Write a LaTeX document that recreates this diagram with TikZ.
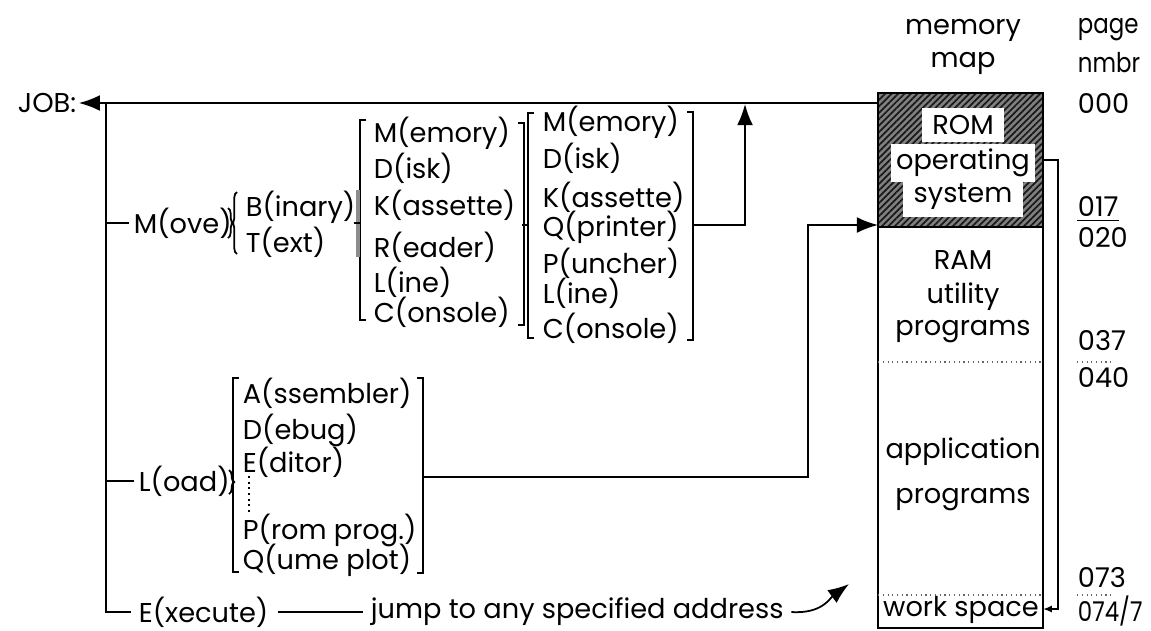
\documentclass[tikz,border=0pt]{standalone}
\usepackage{fontspec}
\setmainfont{Poppins}
\newfontfamily\serre[FakeStretch=0.84]{Poppins}
\usetikzlibrary{arrows.meta,patterns.meta,decorations.pathreplacing}
\begin{document}
\begin{tikzpicture}[x=0.02cm,y=-0.02cm,line width=1pt,
    txt/.style={anchor=west,inner sep=0pt,font=\fontsize{15.5}{18}\selectfont},
    ctxt/.style={txt,anchor=center},
    ptxt/.style={txt,font=\fontsize{15.5}{18}\selectfont\serre},
    fleche/.style={-{Latex[length=12pt,width=9pt]}},
    petitefleche/.style={-{Latex[length=5pt,width=4pt]}},
    pointille/.style={dotted,line width=0.7pt,black!60},
    accolade/.style={decorate,decoration={brace,amplitude=3pt}}]
    \useasboundingbox (0,0) rectangle (1151,630);
    %carte memoire
    \fill[black!50] (878,93) rectangle (1043,227);
    \fill[pattern={Lines[angle=45,distance=2.6pt,line width=1pt]},pattern color=black!90] (878,93) rectangle (1043,227);
    \draw (878,93) rectangle (1043,628);
    \draw (878,227) -- (1043,227);
    \draw[pointille] (878,362) -- (1043,362);
    \draw[pointille] (878,595) -- (1043,595);
    \node[ctxt] (titre1) at (963,30) {memory};
    \node[ctxt] (titre2) at (963,63) {map};
    \node[ctxt,fill=white,inner xsep=6pt,inner ysep=4pt] (rom) at (963,125) {ROM};
    \node[ctxt,fill=white,inner xsep=3pt,inner ysep=3pt] (os) at (963,163) {operating};
    \node[ctxt,fill=white,inner xsep=6pt,inner ysep=4pt] (sys) at (963,197) {system};
    \node[ctxt] (ram) at (963,260) {RAM};
    \node[ctxt] (util) at (963,297) {utility};
    \node[ctxt] (prog) at (963,332) {programs};
    \node[ctxt] (appl) at (963,452) {application};
    \node[ctxt] (aprog) at (963,500) {programs};
    \node[ctxt] (work) at (961,610) {work space};
    %numeros de page
    \node[ptxt] (page) at (1077,30) {page};
    \node[ptxt] (nmbr) at (1077,63) {nmbr};
    \node[txt] (p000) at (1077,103) {000};
    \node[txt] (p017) at (1077,206) {017};
    \node[txt] (p020) at (1077,237) {020};
    \node[txt] (p037) at (1077,341) {037};
    \node[txt] (p040) at (1077,377) {040};
    \node[txt] (p073) at (1077,578) {073};
    \node[ptxt] (p074) at (1077,611) {074/7};
    \draw ([yshift=-2pt]p017.south west) -- ([yshift=-2pt]p017.south east);
    \draw[pointille] (1077,362) -- (1112,362);
    \draw[pointille] (1077,595) -- (1112,595);
    %boucle travail
    \coordinate (loopa) at (1043,160);
    \coordinate (loopb) at (1058,609);
    \coordinate (loopc) at (1043,609);
    \draw[petitefleche] (loopa) -| (loopb) -- (loopc);
    %JOB
    \node[txt] (job) at (17,103) {JOB:};
    \coordinate (memtop) at (878,103);
    \draw[fleche] (memtop) -- ([xshift=1pt]job.east);
    \coordinate (spine) at (106,103);
    %branches
    \node[txt] (move) at (133,223) {M(ove)};
    \node[txt] (load) at (138,481) {L(oad)};
    \node[txt] (exec) at (138,612) {E(xecute)};
    \draw (spine) |- ([xshift=-4pt]exec.west);
    \draw (spine |- move.west) -- ([xshift=-2pt]move.west);
    \draw (spine |- load.west) -- ([xshift=-2pt]load.west);
    %M(ove)
    \draw[accolade] (228,208) -- (228,238);
    \draw[accolade] (237,254) -- (237,192);
    \node[txt] (bin) at (245,207) {B(inary)};
    \node[txt] (txt) at (245,242) {T(ext)};
    %liste source
    \draw (366,120) -- (360,120) -- (360,320) -- (366,320);
    \draw[line width=2.5pt,black!45] (358,190) -- (358,257);
    \draw (354,223) -- (360,223);
    \node[txt] (sm) at (373,133) {M(emory)};
    \node[txt] (sd) at (373,168) {D(isk)};
    \node[txt] (sk) at (373,205) {K(assette)};
    \node[txt] (sr) at (373,247) {R(eader)};
    \node[txt] (sl) at (373,282) {L(ine)};
    \node[txt] (sc) at (373,312) {C(onsole)};
    \draw (518,123) -- (524,123) -- (524,325) -- (518,325);
    \draw (522,225) -- (528,225);
    %liste destination
    \draw (534,113) -- (528,113) -- (528,338) -- (534,338);
    \node[txt] (dm) at (542,122) {M(emory)};
    \node[txt] (dd) at (542,158) {D(isk)};
    \node[txt] (dk) at (542,197) {K(assette)};
    \node[txt] (dq) at (542,227) {Q(printer)};
    \node[txt] (dp) at (542,263) {P(uncher)};
    \node[txt] (dl) at (542,293) {L(ine)};
    \node[txt] (dc) at (542,328) {C(onsole)};
    \draw (687,112) -- (693,112) -- (693,340) -- (687,340);
    \coordinate (out2) at (693,225);
    \coordinate (up) at (745,104);
    \draw[fleche] (out2) -| (up);
    %L(oad)
    \draw[accolade] (229,470) -- (229,494);
    \draw (239,378) -- (233,378) -- (233,572) -- (239,572);
    \node[txt] (la) at (242,393) {A(ssembler)};
    \node[txt] (ld) at (242,430) {D(ebug)};
    \node[txt] (le) at (242,462) {E(ditor)};
    \draw[dotted,line width=1.2pt] (249,476) -- (249,515);
    \node[txt] (lp) at (242,530) {P(rom prog.)};
    \node[txt] (lq) at (242,560) {Q(ume plot)};
    \draw (417,378) -- (423,378) -- (423,573) -- (417,573);
    \coordinate (outL) at (423,477);
    \coordinate (bend) at (808,225);
    \coordinate (memin) at (878,225);
    \draw[fleche] (outL) -| (bend) -- (memin);
    %E(xecute)
    \node[txt] (jump) at (370,612) {jump to any specified address};
    \draw ([xshift=5pt]exec.east) -- ([xshift=-4pt]jump.west);
    \coordinate (cible) at (849,584);
    \draw[fleche] ([xshift=4pt]jump.east) .. controls (822,614) and (830,598) .. (cible);
\end{tikzpicture}
\end{document}
